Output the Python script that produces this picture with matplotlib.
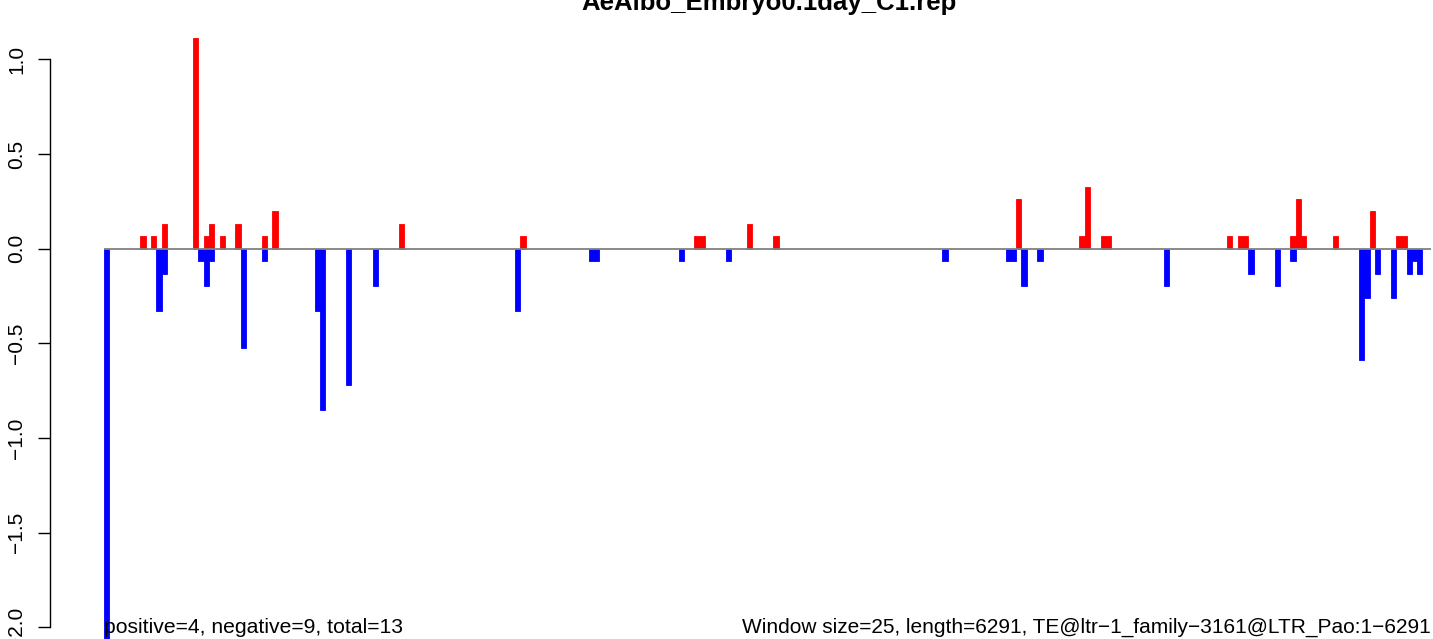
import matplotlib
matplotlib.use("Agg")
import matplotlib.pyplot as plt
import matplotlib.transforms as mtransforms
import numpy as np

plt.rcParams["font.family"] = ["Liberation Sans", "DejaVu Sans"]

title = "AeAlbo_Embryo0.1day_C1.rep"
window = 25
length = 6291
te_name = "TE@ltr\u22121_family\u22123161@LTR_Pao:1\u22126291"
left_note = "positive=4, negative=9, total=13"

# step of the quantised values (one read unit)
step = 0.0656

pos_win = [7, 9, 11, 17, 19, 20, 22, 25, 30, 32, 56, 79, 112, 113, 122, 127,
           173, 185, 186, 189, 190, 213, 215, 216, 225, 226, 227, 233, 240,
           245, 246]
pos_cnt = [1, 1, 2, 17, 1, 2, 1, 2, 1, 3, 2, 1, 1, 1, 2, 1,
           4, 1, 5, 1, 1, 1, 1, 1, 1, 4, 1, 1, 3,
           1, 1]

neg_win = [0, 10, 11, 18, 19, 20, 26, 30, 40, 41, 46, 51, 78, 92, 93, 109,
           118, 159, 171, 172, 174, 177, 201, 217, 222, 225, 238, 239, 241,
           244, 247, 248, 249]
neg_cnt = [-32, -5, -2, -1, -3, -1, -8, -1, -5, -13, -11, -3, -5, -1, -1, -1,
           -1, -1, -1, -1, -3, -1, -3, -2, -3, -1, -9, -4, -2,
           -4, -2, -1, -2]

W, H = 1433, 639
fig = plt.figure(figsize=(W / 100, H / 100), dpi=100)
ax = fig.add_axes([0, 0, 1, 1])

# pixel mapping of the reference
px_per_unit = (1431 - 103.5) / length
x0_px = 103.5
y0_px = H - 248.7
py_per_unit = 189.3
ax.set_xlim(-x0_px / px_per_unit, (W - x0_px) / px_per_unit)
ax.set_ylim(-y0_px / py_per_unit, (H - y0_px) / py_per_unit)

# bars with a border of their own colour, as R's rect() draws them
ax.bar(np.array(pos_win) * window, np.array(pos_cnt) * step, width=window,
       align="edge", color="#FF0000", edgecolor="#FF0000", linewidth=0.6,
       zorder=2)
ax.bar(np.array(neg_win) * window, np.array(neg_cnt) * step, width=window,
       align="edge", color="#0000FF", edgecolor="#0000FF", linewidth=0.6,
       zorder=2)
ax.hlines(0, 0, length, color="#808080", linewidth=1.3, zorder=3)

# R-style left axis
for s in ["top", "right", "bottom"]:
    ax.spines[s].set_visible(False)
ax.spines["left"].set_position(("data", -0.04 * length))
ax.spines["left"].set_bounds(-2, 1)
ax.spines["left"].set_linewidth(1.0)
ax.set_xticks([])
yt = np.arange(-2, 1.01, 0.5)
ax.set_yticks(yt)
ax.set_yticklabels([f"{v:.1f}".replace("-", "\u2212") for v in yt])
ax.tick_params(axis="y", length=9.0, width=1.0, pad=15.4, labelsize=15,
               labelrotation=90)
plt.setp(ax.get_yticklabels(), ha="center", va="center")

fig.text(768.5 / W, 1 - 10 / H, title, ha="center", va="baseline",
         fontsize=18.5, fontweight="bold")

tr = mtransforms.blended_transform_factory(ax.transData, fig.transFigure)
ax.text(0, 6 / H, left_note, transform=tr, ha="left", va="baseline",
        fontsize=15.2)
ax.text(length, 6 / H,
        f"Window size={window}, length={length}, {te_name}",
        transform=tr, ha="right", va="baseline", fontsize=15)

fig.savefig("out.png", dpi=100)
